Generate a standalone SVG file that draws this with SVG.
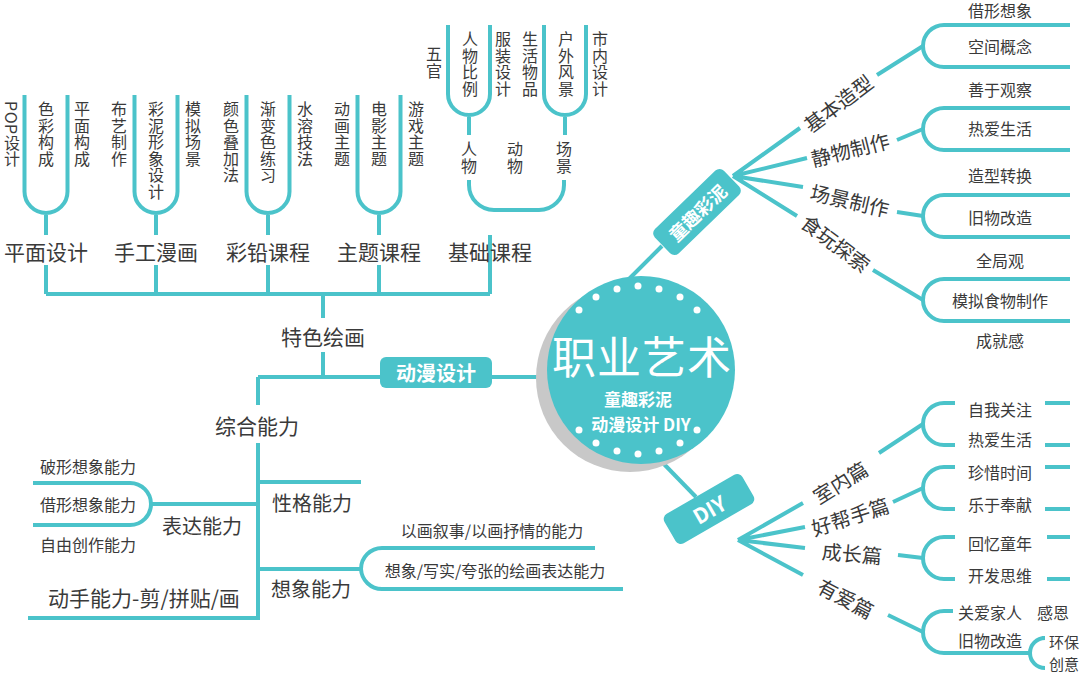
<svg xmlns="http://www.w3.org/2000/svg" width="1080" height="674" viewBox="0 0 1080 674">
<style>
.ln{fill:none;stroke:#4bc3ca;stroke-width:4;stroke-linecap:butt}
.t{font-family:"Noto Sans CJK SC","Noto Sans",sans-serif;fill:#3a3a3a}
.v{font-size:16px;writing-mode:vertical-rl;letter-spacing:0.5px}
.h16{font-size:16px;text-anchor:middle;dominant-baseline:central}
.h20{font-size:20px;text-anchor:middle;dominant-baseline:central}
.h21{font-size:21px;text-anchor:middle;dominant-baseline:central}
.w{font-family:"Noto Sans CJK SC","Noto Sans",sans-serif;fill:#fff;font-weight:bold;text-anchor:middle;dominant-baseline:central}
.box{fill:#4bc3ca}
.dot{fill:#fff}
</style>
<rect width="1080" height="674" fill="#fff"/>
<g id="connectors">
<path class="ln" d="M46,294 H490 M46,294 V265 M156,294 V265 M268,294 V265 M379,294 V265 M490,294 V235"/>
<path class="ln" d="M323,294 V318 M323,352 V377 M258,377 H380 M492,377 H550 M258,377 V405"/>
<path class="ln" d="M24.5,95 V191.5 A21.5,21.5 0 0 0 67.5,191.5 V95 M46,213 V235"/>
<path class="ln" d="M134.5,95 V191.5 A21.5,21.5 0 0 0 177.5,191.5 V95 M156,213 V235"/>
<path class="ln" d="M246.5,95 V191.5 A21.5,21.5 0 0 0 289.5,191.5 V95 M268,213 V235"/>
<path class="ln" d="M357.5,95 V191.5 A21.5,21.5 0 0 0 400.5,191.5 V95 M379,213 V235"/>
<path class="ln" d="M448,25 V94 A21,21 0 0 0 490,94 V25 M469,115 V135"/>
<path class="ln" d="M544,25 V94 A21,21 0 0 0 586,94 V25 M565,115 V135"/>
<path class="ln" d="M469,180 V185 A25,25 0 0 0 494,210 H539 A25,25 0 0 0 564,185 V180"/>
<path class="ln" d="M258,443 V620 M28,618 H258 M258,482 H361 M258,504 H151"/>
<path class="ln" d="M151,504 A21,21 0 0 0 130,483 H33 M151,504 A21,21 0 0 1 130,525 H33"/>
<path class="ln" d="M258,569 H361"/>
<path class="ln" d="M361,569 A21,21 0 0 1 382,548 H595 M361,569 A21,21 0 0 0 382,589 H623"/>
<path class="ln" d="M662,246 L628,280"/>
<path class="ln" d="M733,176 L800,128 M733,176 L807,158 M733,176 L803,187 M733,176 L797,216"/>
<path class="ln" d="M877,75 L923,46 M897,140 L923,129 M897,212 L923,216 M873,270 L923,300"/>
<path class="ln" d="M1070,25 H944 A21,21 0 0 0 923,46 A21,21 0 0 0 944,67 H1070"/>
<path class="ln" d="M1070,108 H944 A21,21 0 0 0 923,129 A21,21 0 0 0 944,150 H1070"/>
<path class="ln" d="M1070,195 H944 A21,21 0 0 0 923,216 A21,21 0 0 0 944,237 H1070"/>
<path class="ln" d="M1070,279 H944 A21,21 0 0 0 923,300 A21,21 0 0 0 944,321 H1070"/>
<path class="ln" d="M660,460 L696,497"/>
<path class="ln" d="M738,540 L803,503 M738,540 L805,527 M738,540 L805,548 M738,540 L803,575"/>
<path class="ln" d="M879,453 L923,424 M893,502 L923,488 M898,555 L923,558 M888,615 L923,632"/>
<path class="ln" d="M955,403 H944 A21,21 0 0 0 923,424 A21,21 0 0 0 944,445 H955 M1045,403 H1070 M1045,445 H1070"/>
<path class="ln" d="M955,467 H944 A21,21 0 0 0 923,488 A21,21 0 0 0 944,509 H955 M1045,467 H1070 M1045,509 H1070"/>
<path class="ln" d="M955,537 H944 A21,21 0 0 0 923,558 A21,21 0 0 0 944,579 H955 M1047,537 H1070 M1047,579 H1070"/>
<path class="ln" d="M953,611 H944 A21,21 0 0 0 923,632 A21,21 0 0 0 944,653 H1030"/>
<path class="ln" d="M1042,638 H1045 A15,15 0 0 0 1030,653 A15,15 0 0 0 1045,668 H1042"/>
</g>
<g id="center">
<circle cx="630" cy="378" r="94" fill="#c8c8c8"/>
<circle cx="641" cy="370" r="94" fill="#4bc3ca"/>
<g class="dot">
<circle cx="638" cy="286" r="3.5"/><circle cx="659" cy="289" r="3.5"/><circle cx="680" cy="297" r="3.5"/><circle cx="697" cy="310" r="3.5"/>
<circle cx="617" cy="289" r="3.5"/><circle cx="596" cy="297" r="3.5"/><circle cx="579" cy="310" r="3.5"/>
<circle cx="638" cy="454" r="3.5"/><circle cx="659" cy="451" r="3.5"/><circle cx="680" cy="443" r="3.5"/><circle cx="697" cy="430" r="3.5"/>
<circle cx="617" cy="451" r="3.5"/><circle cx="596" cy="443" r="3.5"/><circle cx="579" cy="430" r="3.5"/>
</g>
<text class="w" x="642" y="355" style="font-size:44px;font-weight:normal;letter-spacing:1px">职业艺术</text>
<text class="w" x="638" y="398" style="font-size:17px">童趣彩泥</text>
<text class="w" x="641" y="423" style="font-size:17px">动漫设计 DIY</text>
</g>
<g id="node-dongman">
<rect class="box" x="380" y="357" width="112" height="31" rx="6"/>
<text class="w" x="436" y="372" style="font-size:20px">动漫设计</text>
</g>
<g id="node-tongqu" transform="translate(697,212) rotate(-44)">
<rect class="box" x="-48" y="-17" width="96" height="34" rx="6"/>
<text class="w" x="0" y="0" style="font-size:18px">童趣彩泥</text>
</g>
<g id="node-diy" transform="translate(709,509) rotate(-30)">
<rect class="box" x="-45" y="-17" width="90" height="34" rx="6"/>
<text class="w" x="0" y="0" style="font-size:21px">DIY</text>
</g>
<g id="node-tese"><text class="t h21" x="323" y="336">特色绘画</text></g>
<g id="node-courses">
<text class="t h21" x="46" y="251">平面设计</text>
<text class="t h21" x="156" y="251">手工漫画</text>
<text class="t h21" x="268" y="251">彩铅课程</text>
<text class="t h21" x="379" y="251">主题课程</text>
<text class="t h21" x="490" y="251">基础课程</text>
</g>
<g id="node-leaves-top">
<text class="t v" x="12" y="101">POP设计</text>
<text class="t v" x="46" y="101">色彩构成</text>
<text class="t v" x="82" y="101">平面构成</text>
<text class="t v" x="119" y="101">布艺制作</text>
<text class="t v" x="156" y="101">彩泥形象设计</text>
<text class="t v" x="193" y="101">模拟场景</text>
<text class="t v" x="231" y="101">颜色叠加法</text>
<text class="t v" x="268" y="101">渐变色练习</text>
<text class="t v" x="305" y="101">水溶技法</text>
<text class="t v" x="342" y="101">动画主题</text>
<text class="t v" x="379" y="101">电影主题</text>
<text class="t v" x="416" y="101">游戏主题</text>
</g>
<g id="node-basic">
<text class="t v" x="434" y="46">五官</text>
<text class="t v" x="470" y="31">人物比例</text>
<text class="t v" x="503" y="31">服装设计</text>
<text class="t v" x="530" y="31">生活物品</text>
<text class="t v" x="566" y="31">户外风景</text>
<text class="t v" x="600" y="31">市内设计</text>
<text class="t v" x="469" y="141">人物</text>
<text class="t v" x="515" y="141">动物</text>
<text class="t v" x="564" y="141">场景</text>
</g>
<g id="node-zonghe">
<text class="t h21" x="257" y="425">综合能力</text>
<text class="t h20" x="312" y="502">性格能力</text>
<text class="t h20" x="202" y="525">表达能力</text>
<text class="t h20" x="311" y="588">想象能力</text>
<text class="t h21" x="144" y="597">动手能力-剪/拼贴/画</text>
<text class="t h16" x="88" y="466">破形想象能力</text>
<text class="t h16" x="88" y="504">借形想象能力</text>
<text class="t h16" x="88" y="544">自由创作能力</text>
<text class="t h16" x="492" y="530">以画叙事/以画抒情的能力</text>
<text class="t h16" x="495" y="570">想象/写实/夸张的绘画表达能力</text>
</g>
<g id="node-tongqu-branches">
<text class="t h20" transform="translate(838,103) rotate(-37)">基本造型</text>
<text class="t h20" transform="translate(850,149) rotate(-14)">静物制作</text>
<text class="t h20" transform="translate(850,200) rotate(13)">场景制作</text>
<text class="t h20" transform="translate(836,243) rotate(37)">食玩探索</text>
<text class="t h16" x="1000" y="10">借形想象</text>
<text class="t h16" x="1000" y="46">空间概念</text>
<text class="t h16" x="1000" y="89">善于观察</text>
<text class="t h16" x="1000" y="128">热爱生活</text>
<text class="t h16" x="1000" y="175">造型转换</text>
<text class="t h16" x="1000" y="217">旧物改造</text>
<text class="t h16" x="1000" y="260">全局观</text>
<text class="t h16" x="1000" y="300">模拟食物制作</text>
<text class="t h16" x="1000" y="340">成就感</text>
</g>
<g id="node-diy-branches">
<text class="t h20" transform="translate(840,482) rotate(-32)">室内篇</text>
<text class="t h20" transform="translate(850,516) rotate(-18)">好帮手篇</text>
<text class="t h20" transform="translate(852,553) rotate(5)">成长篇</text>
<text class="t h20" transform="translate(846,598) rotate(28)">有爱篇</text>
<text class="t h16" x="1000" y="409">自我关注</text>
<text class="t h16" x="1000" y="439">热爱生活</text>
<text class="t h16" x="1000" y="472">珍惜时间</text>
<text class="t h16" x="1000" y="504">乐于奉献</text>
<text class="t h16" x="1000" y="543">回忆童年</text>
<text class="t h16" x="1000" y="575">开发思维</text>
<text class="t h16" x="990" y="612">关爱家人</text>
<text class="t h16" x="1053" y="612">感恩</text>
<text class="t h16" x="990" y="640">旧物改造</text>
<text class="t h16" x="1064" y="641" style="font-size:15px">环保</text>
<text class="t h16" x="1064" y="663" style="font-size:15px">创意</text>
</g>
</svg>
